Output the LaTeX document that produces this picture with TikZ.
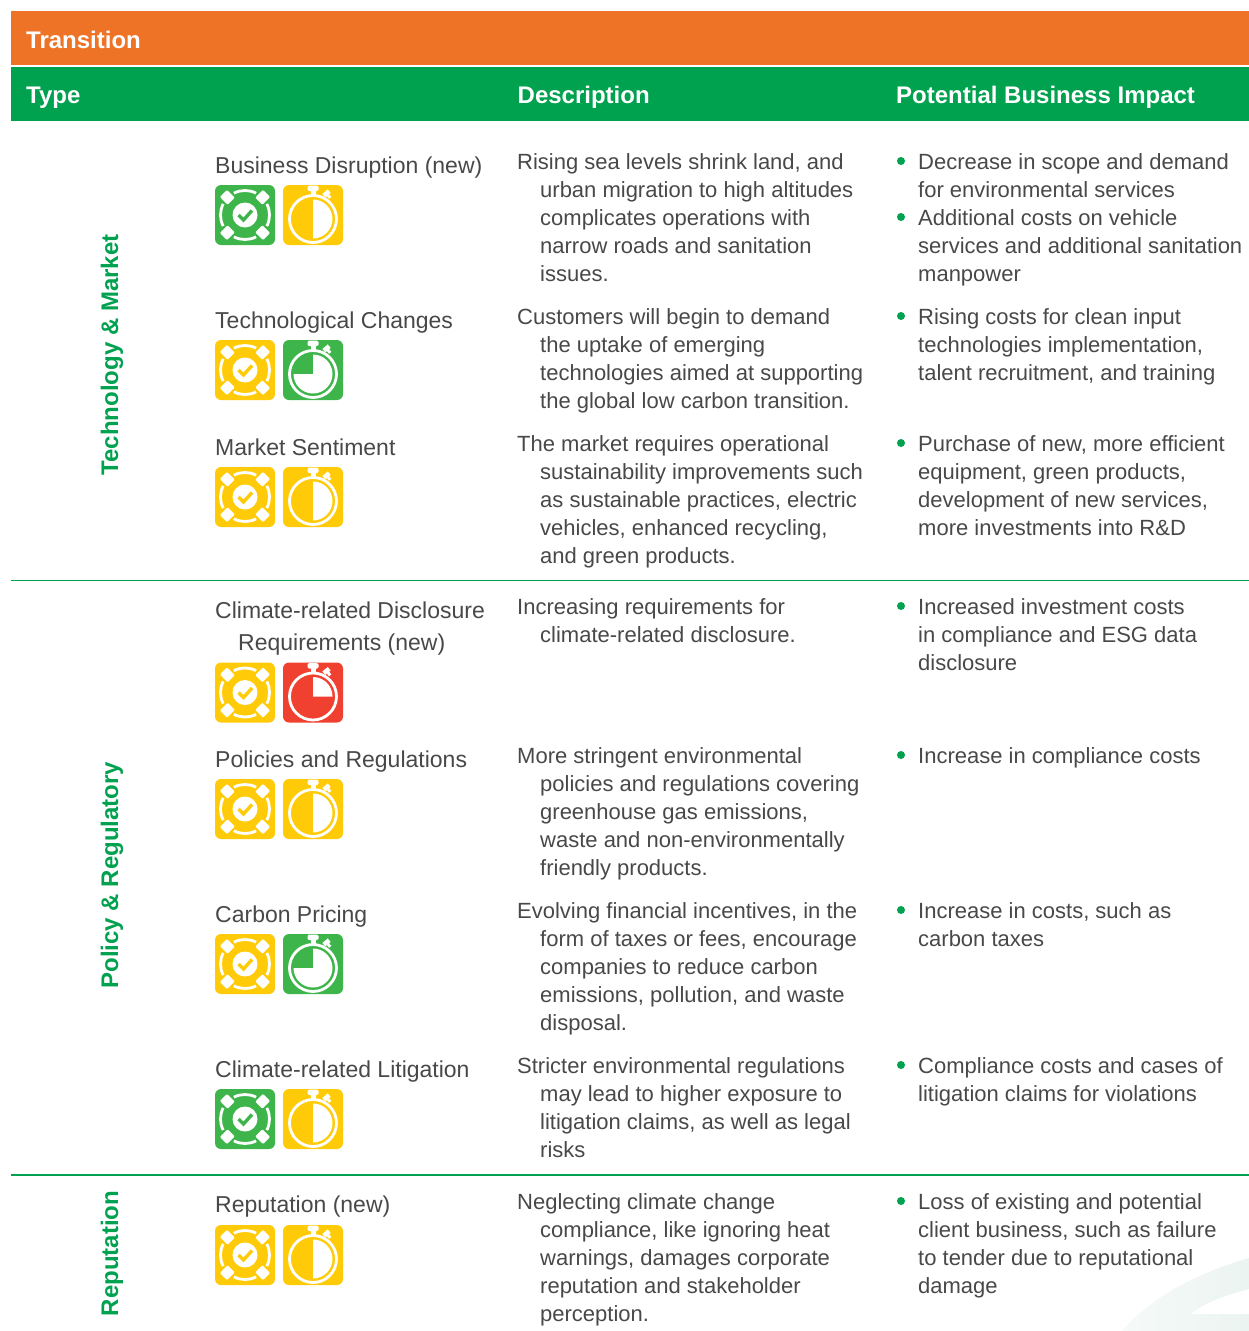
\documentclass[tikz,border=0pt]{standalone}
\usepackage{fontspec}
\setmainfont{Liberation Sans}
\definecolor{orangeband}{HTML}{EE7326}
\definecolor{greenband}{HTML}{00A14F}
\definecolor{igreen}{HTML}{3DB54A}
\definecolor{iyellow}{HTML}{FFCB08}
\definecolor{ired}{HTML}{F04130}
\definecolor{bodytext}{HTML}{484848}
\definecolor{wmleft}{HTML}{F6FAF8}
\definecolor{wmright}{HTML}{EBF4F1}
\tikzset{
  x=1pt,y=-1pt,
  band/.style={draw=none,inner sep=0},
  headtext/.style={anchor=base west,inner sep=0,text=white,font=\fontsize{24}{28}\selectfont\bfseries},
  typetext/.style={rotate=90,inner sep=0,text=greenband,font=\fontsize{24}{28}\selectfont\bfseries},
  itemtext/.style={anchor=north west,inner sep=0,align=left,text=bodytext,font=\fontsize{23}{32}\selectfont},
  bodyblock/.style={anchor=north west,inner sep=0,align=left,text=bodytext,font=\fontsize{22}{28}\selectfont},
  bulletdot/.style={circle,fill=greenband,draw=none,inner sep=0,minimum size=8pt},
  divider/.style={draw=greenband,line width=1.1pt},
}
\newcommand{\firstl}{\rule{0pt}{20pt}}
\newcommand{\hang}{\hspace*{23pt}}
% target icon at centre #1,#2 with colour #3
\newcommand{\targeticon}[3]{%
 \begin{scope}[shift={(#1,#2)}]
  \fill[#3,rounded corners=6pt] (-30,-30) rectangle (30,30);
  \fill[white] (0,0) circle (12.5);
  \foreach \a in {0,90,180,270}{
    \draw[white,line width=2.8pt] (\a-27:24.5pt) arc[start angle=\a-27,end angle=\a+27,radius=24.5pt];}
  \foreach \a in {45,135,225,315}{
    \fill[white,rotate=\a,rounded corners=1pt] (19.5,-5) rectangle (30.5,5);}
  \draw[#3,line width=3.4pt] (-6.5,0) -- (-1.5,5) -- (7,-4.5);
 \end{scope}}
% stopwatch icon
\newcommand{\watchicon}[4]{%
 \begin{scope}[shift={(#1,#2)}]
  \fill[#3,rounded corners=6pt] (-30,-30) rectangle (30,30);
  \draw[white,line width=2.8pt] (0,4) circle (23.5);
  \fill[white,rounded corners=1.5pt] (-5.5,-29.3) rectangle (5.5,-24);
  \fill[white] (-2.5,-25) rectangle (2.5,-19);
  \fill[white,rotate around={40:(14,-21)}] (10.5,-24) rectangle (17.5,-19.5);
  \fill[white,rotate around={40:(14,-21)}] (12.5,-20) rectangle (15.5,-16);
  #4
 \end{scope}}
\newcommand{\halfface}{\fill[white] (0,-15.5) arc[start angle=-90,end angle=90,radius=19.5] -- cycle;}
\newcommand{\threeface}{\fill[white] (0,-15.5) arc[start angle=-90,end angle=180,radius=19.5] -- (0,4) -- cycle;}
\newcommand{\quarterface}{\fill[white] (0,-15.5) arc[start angle=-90,end angle=0,radius=19.5] -- (0,4) -- cycle;}
\begin{document}
\begin{tikzpicture}
\useasboundingbox (0,0) rectangle (1249,1331);
% watermark
\shade[left color=wmleft,right color=wmright] (1122,1331) .. controls (1150,1297) and (1200,1272) .. (1249,1258) -- (1249,1289) .. controls (1225,1295) and (1205,1303) .. (1190,1314) -- (1249,1314) -- (1249,1331) -- cycle;
% bands
\fill[orangeband] (11,11) rectangle (1249,65);
\fill[greenband] (11,67) rectangle (1249,120.5);
\node[headtext] (hT) at (26,48) {Transition};
\node[headtext] (h1) at (26,103) {Type};
\node[headtext] (h2) at (517.5,103) {Description};
\node[headtext] (h3) at (896,103) {Potential Business Impact};
% dividers
\draw[divider] (11,580.5) -- (1249,580.5);
\draw[divider] (11,1175) -- (1249,1175);
% types
\node[typetext] (t1) at (112,355) {Technology \& Market};
\node[typetext] (t2) at (112,875) {Policy \& Regulatory};
\node[typetext] (t3) at (112,1253.5) {Reputation};
% items
\node[itemtext] (i1) at (215,153) {\firstl Business Disruption (new)};
\targeticon{245}{215}{igreen}\watchicon{313}{215}{iyellow}{\halfface}
\node[itemtext] (i2) at (215,308) {\firstl Technological Changes};
\targeticon{245}{370}{iyellow}\watchicon{313}{370}{igreen}{\threeface}
\node[itemtext] (i3) at (215,435) {\firstl Market Sentiment};
\targeticon{245}{497}{iyellow}\watchicon{313}{497}{iyellow}{\halfface}
\node[itemtext] (i4) at (215,598) {\firstl Climate-related Disclosure\\\hang Requirements (new)};
\targeticon{245}{692.5}{iyellow}\watchicon{313}{692.5}{ired}{\quarterface}
\node[itemtext] (i5) at (215,747) {\firstl Policies and Regulations};
\targeticon{245}{809}{iyellow}\watchicon{313}{809}{iyellow}{\halfface}
\node[itemtext] (i6) at (215,902) {\firstl Carbon Pricing};
\targeticon{245}{964}{iyellow}\watchicon{313}{964}{igreen}{\threeface}
\node[itemtext] (i7) at (215,1057) {\firstl Climate-related Litigation};
\targeticon{245}{1119}{igreen}\watchicon{313}{1119}{iyellow}{\halfface}
\node[itemtext] (i8) at (215,1192) {\firstl Reputation (new)};
\targeticon{245}{1255}{iyellow}\watchicon{313}{1255}{iyellow}{\halfface}
% descriptions
\node[bodyblock] (d1) at (517,149) {\firstl Rising sea levels shrink land, and\\\hang urban migration to high altitudes\\\hang complicates operations with\\\hang narrow roads and sanitation\\\hang issues.};
\node[bodyblock] (d2) at (517,304) {\firstl Customers will begin to demand\\\hang the uptake of emerging\\\hang technologies aimed at supporting\\\hang the global low carbon transition.};
\node[bodyblock] (d3) at (517,431) {\firstl The market requires operational\\\hang sustainability improvements such\\\hang as sustainable practices, electric\\\hang vehicles, enhanced recycling,\\\hang and green products.};
\node[bodyblock] (d4) at (517,594) {\firstl Increasing requirements for\\\hang climate-related disclosure.};
\node[bodyblock] (d5) at (517,743) {\firstl More stringent environmental\\\hang policies and regulations covering\\\hang greenhouse gas emissions,\\\hang waste and non-environmentally\\\hang friendly products.};
\node[bodyblock] (d6) at (517,898) {\firstl Evolving financial incentives, in the\\\hang form of taxes or fees, encourage\\\hang companies to reduce carbon\\\hang emissions, pollution, and waste\\\hang disposal.};
\node[bodyblock] (d7) at (517,1053) {\firstl Stricter environmental regulations\\\hang may lead to higher exposure to\\\hang litigation claims, as well as legal\\\hang risks};
\node[bodyblock] (d8) at (517,1189) {\firstl Neglecting climate change\\\hang compliance, like ignoring heat\\\hang warnings, damages corporate\\\hang reputation and stakeholder\\\hang perception.};
% impacts
\node[bulletdot] (b1) at (901,161) {};
\node[bodyblock] (p1) at (918,149) {\firstl Decrease in scope and demand\\for environmental services};
\node[bulletdot] (b2) at (901,217) {};
\node[bodyblock] (p2) at (918,205) {\firstl Additional costs on vehicle\\services and additional sanitation\\manpower};
\node[bulletdot] (b3) at (901,316) {};
\node[bodyblock] (p3) at (918,304) {\firstl Rising costs for clean input\\technologies implementation,\\talent recruitment, and training};
\node[bulletdot] (b4) at (901,443) {};
\node[bodyblock] (p4) at (918,431) {\firstl Purchase of new, more efficient\\equipment, green products,\\development of new services,\\more investments into R\&D};
\node[bulletdot] (b5) at (901,606) {};
\node[bodyblock] (p5) at (918,594) {\firstl Increased investment costs\\in compliance and ESG data\\disclosure};
\node[bulletdot] (b6) at (901,755) {};
\node[bodyblock] (p6) at (918,743) {\firstl Increase in compliance costs};
\node[bulletdot] (b7) at (901,910) {};
\node[bodyblock] (p7) at (918,898) {\firstl Increase in costs, such as\\carbon taxes};
\node[bulletdot] (b8) at (901,1065) {};
\node[bodyblock] (p8) at (918,1053) {\firstl Compliance costs and cases of\\litigation claims for violations};
\node[bulletdot] (b9) at (901,1201) {};
\node[bodyblock] (p9) at (918,1189) {\firstl Loss of existing and potential\\client business, such as failure\\to tender due to reputational\\damage};
\end{tikzpicture}
\end{document}
